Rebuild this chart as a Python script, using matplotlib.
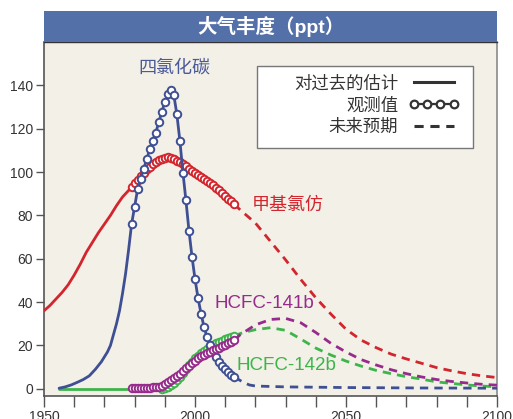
import numpy as np
import matplotlib
matplotlib.use("Agg")
import matplotlib.pyplot as plt
from matplotlib.patches import Rectangle
from matplotlib.lines import Line2D

plt.rcParams['font.family'] = ['Liberation Sans', 'Noto Sans CJK SC', 'DejaVu Sans']

# ---- data (ppt) ----
# CCl4
ccl4_est_yr = [1955, 1957, 1959, 1961, 1963, 1965, 1967, 1969, 1971, 1972, 1973,
               1974, 1975, 1976, 1977, 1978, 1979]
ccl4_est = [0.3, 0.9, 1.8, 3, 4.3, 6, 9, 12.5, 17, 20, 25, 30, 36, 44, 53, 64, 76]
ccl4_obs_yr = list(range(1979, 2014))
ccl4_obs = [76, 84, 92, 97, 101.5, 105.8, 110.6, 114.5, 118.2, 122.9, 127.8, 132.2,
            135.9, 137.8, 135.4, 126.6, 114.3, 99.8, 86.9, 73, 61, 50.7, 41.9, 34.7,
            28.5, 23.7, 20, 17, 14.5, 12.3, 10.5, 9, 7.7, 6.5, 5.5]
ccl4_fut_yr = [2013, 2016, 2018, 2020, 2030, 2050, 2075, 2100]
ccl4_fut = [5.5, 3, 1.8, 1.3, 0.9, 0.6, 0.4, 0.3]

# CH3CCl3
mcf_est_yr = [1950, 1952, 1954, 1956, 1958, 1960, 1962, 1964, 1966, 1968, 1970,
              1972, 1974, 1976, 1978, 1979]
mcf_est = [36, 38.5, 41.5, 44.5, 48, 52.5, 57.5, 63, 67.5, 72, 76, 80, 84.5, 88.5,
           91.5, 93]
mcf_obs_yr = list(range(1979, 2014))
mcf_obs = [93, 94.8, 96.5, 98, 99.8, 101.3, 102.4, 103.5, 104.6, 105.4, 106.2, 106.7,
           107, 106.6, 106, 105.3, 104.6, 103.6, 102.6, 101.6, 100.7, 99.7, 98.7, 97.7,
           96.8, 96, 95, 93.9, 92.7, 91.5, 90.3, 89, 87.8, 86.6, 85.3]
mcf_fut_yr = [2013, 2015, 2020, 2025, 2030, 2035, 2040, 2045, 2050, 2055, 2060,
              2065, 2070, 2075, 2080, 2085, 2090, 2095, 2100]
mcf_fut = [85.3, 82.5, 76.5, 68, 59.5, 50.5, 42, 34.5, 27.5, 22.5, 19, 16, 13.8,
           11.8, 9.8, 8.3, 7, 6, 5.2]

# HCFC-141b
h141_obs_yr = list(range(1979, 2014))
h141_obs = [0.3, 0.4, 0.4, 0.5, 0.5, 0.6, 0.6, 0.7, 0.8, 1.0, 1.4, 2.2, 3, 4, 5, 6, 7,
            8.2, 9.4, 10.6, 11.8, 13, 14, 15, 15.8, 16.5, 17.1, 17.7, 18.3, 19, 19.7,
            20.4, 21.1, 21.8, 22.5]
h141_fut_yr = [2013, 2015, 2020, 2025, 2030, 2035, 2040, 2045, 2050, 2055, 2060,
               2065, 2070, 2075, 2080, 2085, 2090, 2095, 2100]
h141_fut = [22.5, 25, 29.5, 32, 32.5, 30.5, 26, 21, 17, 13.5, 11, 8.8, 7, 5.5, 4.3,
            3.4, 2.7, 2.1, 1.7]

# HCFC-142b
h142_est_yr = [1955, 1970, 1989]
h142_est = [0, 0, 0]
h142_obs_yr = list(range(1989, 2014))
h142_obs = [0, 0.5, 1, 1.8, 2.8, 4, 5.5, 7.2, 9, 10.8, 12.5, 14, 15.3, 16.5, 17.6,
            18.6, 19.5, 20.3, 21, 21.7, 22.3, 22.9, 23.5, 24, 24.5]
h142_fut_yr = [2013, 2016, 2020, 2025, 2030, 2035, 2040, 2045, 2050, 2055, 2060,
               2065, 2070, 2075, 2080, 2085, 2090, 2095, 2100]
h142_fut = [24.5, 26, 27.3, 28.2, 27, 23, 18.8, 15.6, 12.8, 10.5, 8.5, 7, 5.6,
            4.5, 3.2, 2.5, 1.8, 1.3, 0.9]

legend_labels = ['对过去的估计', '观测值', '未来预期']

BLUE = '#3f4f93'
RED = '#d3252d'
PURPLE = '#972b8c'
GREEN = '#3db54a'
DARK = '#333333'

fig = plt.figure(figsize=(5.13, 4.19), dpi=100)
ax = fig.add_axes([44 / 513, 23 / 419, 453 / 513, 354 / 419])
ax.set_facecolor('#f3f0e8')

lw = 2.0
ms = 5.4
mew = 1.4


def draw(color, obs_yr, obs, fut_yr, fut, est_yr=None, est=None, z=2):
    if est_yr is not None:
        ax.plot(est_yr, est, color=color, lw=lw, solid_capstyle='round',
                solid_joinstyle='round', zorder=z)
    ax.plot(fut_yr, fut, color=color, lw=lw, dashes=(3, 2.2), zorder=z)
    ax.plot(obs_yr, obs, color=color, lw=lw, marker='o', ms=ms, mfc='white',
            mec=color, mew=mew, zorder=z + 0.5)


draw(GREEN, h142_obs_yr, h142_obs, h142_fut_yr, h142_fut, h142_est_yr, h142_est, z=2)
draw(RED, mcf_obs_yr, mcf_obs, mcf_fut_yr, mcf_fut, mcf_est_yr, mcf_est, z=3)
draw(BLUE, ccl4_obs_yr, ccl4_obs, ccl4_fut_yr, ccl4_fut, ccl4_est_yr, ccl4_est, z=4)
draw(PURPLE, h141_obs_yr, h141_obs, h141_fut_yr, h141_fut, z=5)

ax.set_xlim(1950, 2100)
ax.set_ylim(-3.3, 160)
ax.set_xticks([1950, 2000, 2050, 2100])
ax.set_xticks(np.arange(1950, 2101, 10), minor=True)
ax.set_yticks(np.arange(0, 141, 20))
ax.tick_params(axis='x', which='both', length=8, width=1, color='#555555',
               labelsize=10, labelcolor=DARK, pad=2)
ax.tick_params(axis='y', length=6, width=1, color='#555555', labelsize=10,
               labelcolor=DARK, pad=2)
for s in ['left', 'bottom']:
    ax.spines[s].set_color('#555555')
    ax.spines[s].set_linewidth(1.2)
ax.spines['right'].set_color('#8a8a8a')
ax.spines['right'].set_linewidth(1.2)
ax.spines['top'].set_color('#333333')
ax.spines['top'].set_linewidth(1.0)

# series labels
ax.text(1993.2, 148, '四氯化碳', color='#4a5a98', fontsize=13, ha='center', va='center')
ax.text(2018.8, 84.5, '甲基氯仿', color=RED, fontsize=13, ha='left', va='center')
ax.text(2006.3, 39.5, 'HCFC-141b', color=PURPLE, fontsize=13.5, ha='left', va='center')
ax.text(2013.8, 10.8, 'HCFC-142b', color=GREEN, fontsize=13.5, ha='left', va='center')

# title bar
ax.add_patch(Rectangle((0, 1.0), 1.0, 31 / 354, transform=ax.transAxes,
                       facecolor='#5470a9', edgecolor='none', clip_on=False, zorder=10))
ax.text(0.5, 1.0 + 15.5 / 354, '大气丰度（ppt）', transform=ax.transAxes,
        color='white', fontsize=14, fontweight='bold', ha='center', va='center',
        zorder=11)

# legend: frame drawn by hand so the wide left margin matches
ax.add_patch(Rectangle((213 / 453, 1 - 106 / 354), 216 / 453, 82 / 354,
                       transform=ax.transAxes, facecolor='white',
                       edgecolor='#777777', lw=1.0, zorder=8))
handles = [
    Line2D([], [], color=DARK, lw=2.2),
    Line2D([], [], color=DARK, lw=1.6, marker='o', ms=5.5, mfc='white', mec=DARK, mew=1.6),
    Line2D([], [], color=DARK, lw=2.2, dashes=(3, 2.2)),
]
leg = ax.legend(handles, legend_labels, loc='upper right',
                bbox_to_anchor=(415 / 453, 1 - 33 / 354),
                markerfirst=False, numpoints=4, fontsize=12.5, handlelength=2.9,
                labelspacing=0.32, borderpad=0, borderaxespad=0, handletextpad=0.6,
                frameon=False)
leg.set_zorder(9)
for t in leg.get_texts():
    t.set_color(DARK)

fig.savefig('out.png', dpi=100, facecolor='white')
